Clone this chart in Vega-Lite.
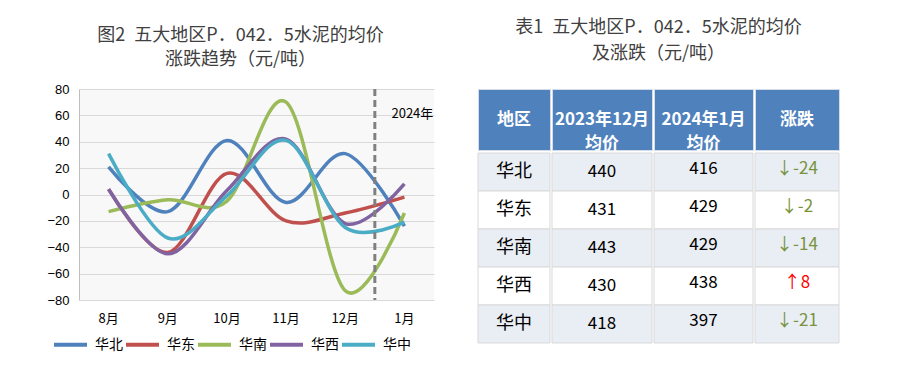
{
  "$schema": "https://vega.github.io/schema/vega-lite/v6.json",
  "background": "white",
  "padding": {"left": 46, "top": 18, "right": 0, "bottom": 0},
  "config": {
    "font": "Noto Sans CJK SC",
    "title": {"font": "Noto Sans CJK SC", "fontSize": 18, "fontWeight": "normal", "color": "#404040", "lineHeight": 24, "anchor": "middle", "frame": "bounds"},
    "axis": {"labelFont": "Liberation Sans", "labelColor": "#000000"},
    "legend": {"labelFont": "Noto Sans CJK SC"}
  },
  "datasets": {
    "trend": [
      {"month": "8月", "region": "华北", "value": 21},
      {"month": "9月", "region": "华北", "value": -13},
      {"month": "10月", "region": "华北", "value": 41},
      {"month": "11月", "region": "华北", "value": -6},
      {"month": "12月", "region": "华北", "value": 31},
      {"month": "1月", "region": "华北", "value": -24},
      {"month": "8月", "region": "华东", "value": 4},
      {"month": "9月", "region": "华东", "value": -44},
      {"month": "10月", "region": "华东", "value": 16},
      {"month": "11月", "region": "华东", "value": -20},
      {"month": "12月", "region": "华东", "value": -14},
      {"month": "1月", "region": "华东", "value": -2},
      {"month": "8月", "region": "华南", "value": -13},
      {"month": "9月", "region": "华南", "value": -4},
      {"month": "10月", "region": "华南", "value": -5},
      {"month": "11月", "region": "华南", "value": 70},
      {"month": "12月", "region": "华南", "value": -73},
      {"month": "1月", "region": "华南", "value": -14},
      {"month": "8月", "region": "华西", "value": 4},
      {"month": "9月", "region": "华西", "value": -45},
      {"month": "10月", "region": "华西", "value": 3},
      {"month": "11月", "region": "华西", "value": 42},
      {"month": "12月", "region": "华西", "value": -22},
      {"month": "1月", "region": "华西", "value": 8},
      {"month": "8月", "region": "华中", "value": 31},
      {"month": "9月", "region": "华中", "value": -33},
      {"month": "10月", "region": "华中", "value": -1},
      {"month": "11月", "region": "华中", "value": 41},
      {"month": "12月", "region": "华中", "value": -25},
      {"month": "1月", "region": "华中", "value": -21}
    ],
    "table": [
      {"region": "华北", "dec": 440, "jan": 416, "change": -24, "label": "↓-24"},
      {"region": "华东", "dec": 431, "jan": 429, "change": -2, "label": "↓-2"},
      {"region": "华南", "dec": 443, "jan": 429, "change": -14, "label": "↓-14"},
      {"region": "华西", "dec": 430, "jan": 438, "change": 8, "label": "↑8"},
      {"region": "华中", "dec": 418, "jan": 397, "change": -21, "label": "↓-21"}
    ]
  },
  "resolve": {"legend": {"color": "independent"}},
  "align": "none",
  "bounds": "flush",
  "spacing": 44,
  "hconcat": [
    {
      "title": {"text": ["图2\u2002五大地区P．042．5水泥的均价", "涨跌趋势（元/吨）"], "offset": 14},
      "width": 355,
      "height": 211,
      "view": {"fill": "#f8f8f8", "stroke": null},
      "layer": [
        {
          "data": {"name": "trend"},
          "mark": {"type": "line", "interpolate": "cardinal", "strokeWidth": 3.5},
          "encoding": {
            "x": {
              "field": "month", "type": "ordinal",
              "sort": ["8月", "9月", "10月", "11月", "12月", "1月"],
              "bandPosition": 0.5,
              "scale": {"type": "band", "domain": ["8月", "9月", "10月", "11月", "12月", "1月"], "paddingInner": 0, "paddingOuter": 0},
              "axis": {"title": null, "domain": false, "ticks": false, "labelAngle": 0, "labelPadding": 12, "labelFontSize": 13, "labelFont": "Noto Sans CJK SC"}
            },
            "y": {
              "field": "value", "type": "quantitative",
              "scale": {"domain": [-80, 80], "nice": false},
              "axis": {"title": null, "values": [-80, -60, -40, -20, 0, 20, 40, 60, 80], "labelOverlap": false, "ticks": false, "labelPadding": 10, "labelFontSize": 13, "domainColor": "#bfbfbf", "gridColor": "#d9d9d9", "format": "d"}
            },
            "color": {
              "field": "region", "type": "nominal",
              "scale": {"domain": ["华北", "华东", "华南", "华西", "华中"], "range": ["#4f81bd", "#c0504d", "#9bbb59", "#8064a2", "#4bacc6"]},
              "legend": {"title": null, "orient": "none", "direction": "horizontal", "legendX": -27, "legendY": 237, "symbolType": "stroke", "symbolSize": 1089, "symbolStrokeWidth": 4, "labelFontSize": 14, "labelColor": "#000000", "labelOffset": 6, "columnPadding": -5, "padding": 0}
            }
          }
        },
        {
          "data": {"values": [{"mark": "2024年", "month": "1月", "value": 61}]},
          "mark": {"type": "rule", "strokeDash": [7, 4], "strokeWidth": 3, "color": "#808080"},
          "encoding": {
            "x": {"field": "month", "type": "ordinal", "sort": ["8月", "9月", "10月", "11月", "12月", "1月"], "bandPosition": 0}
          }
        },
        {
          "data": {"values": [{"mark": "2024年", "month": "1月", "value": 61}]},
          "mark": {"type": "text", "fontSize": 13, "color": "#000000", "dx": 8},
          "encoding": {
            "x": {"field": "month", "type": "ordinal", "sort": ["8月", "9月", "10月", "11月", "12月", "1月"], "bandPosition": 0.5},
            "y": {
              "field": "value", "type": "quantitative",
              "axis": {"title": null, "values": [-80, -60, -40, -20, 0, 20, 40, 60, 80], "labelOverlap": false, "ticks": false, "labelPadding": 10, "labelFontSize": 13, "domainColor": "#bfbfbf", "gridColor": "#d9d9d9", "format": "d"}
            },
            "text": {"field": "mark"}
          }
        }
      ]
    },
    {
      "title": {"text": ["表1\u2002五大地区P．042．5水泥的均价", "及涨跌（元/吨）"], "offset": 26, "lineHeight": 26},
      "spacing": 0,
      "vconcat": [
        {
          "spacing": 0,
          "hconcat": [
            {"width": 72, "height": 61, "view": {"fill": "#4f81bd", "stroke": "#d6dce6"}, "data": {"values": [{"h": "地区"}]}, "mark": {"type": "text", "color": "white", "fontSize": 17, "fontWeight": "bold", "lineBreak": "\n", "lineHeight": 24}, "encoding": {"text": {"field": "h"}}},
            {"width": 100, "height": 61, "view": {"fill": "#4f81bd", "stroke": "#d6dce6"}, "data": {"values": [{"h": "2023年12月\n均价"}]}, "mark": {"type": "text", "color": "white", "fontSize": 17, "fontWeight": "bold", "lineBreak": "\n", "lineHeight": 24}, "encoding": {"text": {"field": "h"}}},
            {"width": 99, "height": 61, "view": {"fill": "#4f81bd", "stroke": "#d6dce6"}, "data": {"values": [{"h": "2024年1月\n均价"}]}, "mark": {"type": "text", "color": "white", "fontSize": 17, "fontWeight": "bold", "lineBreak": "\n", "lineHeight": 24}, "encoding": {"text": {"field": "h"}}},
            {"width": 84, "height": 61, "view": {"fill": "#4f81bd", "stroke": "#d6dce6"}, "data": {"values": [{"h": "涨跌"}]}, "mark": {"type": "text", "color": "white", "fontSize": 17, "fontWeight": "bold", "lineBreak": "\n", "lineHeight": 24}, "encoding": {"text": {"field": "h"}}}
          ]
        },
        {
          "spacing": 0,
          "hconcat": [
            {
              "width": 72, "height": 190, "view": {"stroke": null},
              "data": {"name": "table"},
              "encoding": {"y": {"field": "region", "type": "nominal", "sort": ["华北", "华东", "华南", "华西", "华中"], "axis": null, "scale": {"paddingInner": 0, "paddingOuter": 0}}},
              "layer": [
                {"mark": {"type": "rect", "stroke": "#d9d9d9", "strokeWidth": 1}, "encoding": {"fill": {"condition": {"test": "indexof(['华北','华南','华中'], datum.region) >= 0", "value": "#e9edf4"}, "value": "#ffffff"}}},
                {"mark": {"type": "text", "fontSize": 18, "color": "#000000"}, "encoding": {"text": {"field": "region"}}}
              ]
            },
            {
              "width": 100, "height": 190, "view": {"stroke": null},
              "data": {"name": "table"},
              "encoding": {"y": {"field": "region", "type": "nominal", "sort": ["华北", "华东", "华南", "华西", "华中"], "axis": null, "scale": {"paddingInner": 0, "paddingOuter": 0}}},
              "layer": [
                {"mark": {"type": "rect", "stroke": "#d9d9d9", "strokeWidth": 1}, "encoding": {"fill": {"condition": {"test": "indexof(['华北','华南','华中'], datum.region) >= 0", "value": "#e9edf4"}, "value": "#ffffff"}}},
                {"mark": {"type": "text", "fontSize": 17, "color": "#000000"}, "encoding": {"text": {"field": "dec"}}}
              ]
            },
            {
              "width": 99, "height": 190, "view": {"stroke": null},
              "data": {"name": "table"},
              "encoding": {"y": {"field": "region", "type": "nominal", "sort": ["华北", "华东", "华南", "华西", "华中"], "axis": null, "scale": {"paddingInner": 0, "paddingOuter": 0}}},
              "layer": [
                {"mark": {"type": "rect", "stroke": "#d9d9d9", "strokeWidth": 1}, "encoding": {"fill": {"condition": {"test": "indexof(['华北','华南','华中'], datum.region) >= 0", "value": "#e9edf4"}, "value": "#ffffff"}}},
                {"mark": {"type": "text", "fontSize": 17, "color": "#000000", "dy": -3}, "encoding": {"text": {"field": "jan"}}}
              ]
            },
            {
              "width": 84, "height": 190, "view": {"stroke": null},
              "data": {"name": "table"},
              "encoding": {"y": {"field": "region", "type": "nominal", "sort": ["华北", "华东", "华南", "华西", "华中"], "axis": null, "scale": {"paddingInner": 0, "paddingOuter": 0}}},
              "layer": [
                {"mark": {"type": "rect", "stroke": "#d9d9d9", "strokeWidth": 1}, "encoding": {"fill": {"condition": {"test": "indexof(['华北','华南','华中'], datum.region) >= 0", "value": "#e9edf4"}, "value": "#ffffff"}}},
                {"mark": {"type": "text", "fontSize": 17, "dy": -3}, "encoding": {"text": {"field": "label"}, "color": {"condition": {"test": "datum.change > 0", "value": "#ff0000"}, "value": "#77933c"}}}
              ]
            }
          ]
        }
      ]
    }
  ]
}
